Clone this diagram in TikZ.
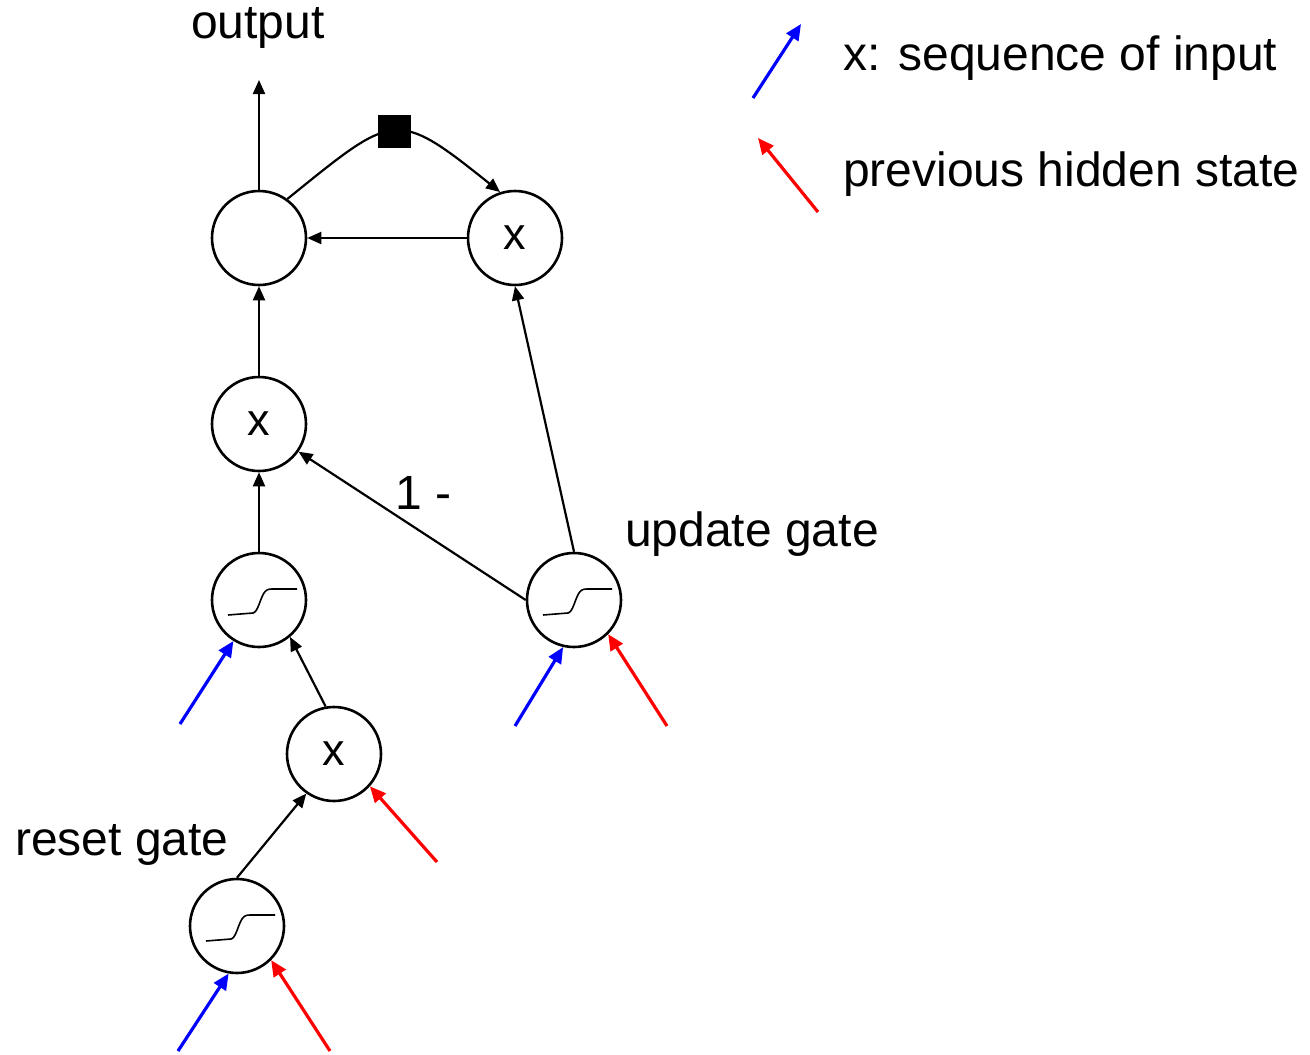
\documentclass[tikz,border=0pt]{standalone}
\usepackage{fontspec}
\setmainfont{Liberation Sans}
\usetikzlibrary{arrows.meta}

\tikzset{
  unit/.style={circle, draw, line width=2.6pt, minimum size=94pt, inner sep=0pt,
               font=\fontsize{45}{52}\selectfont},
  conn/.style={line width=2.2pt, -{Triangle[length=14pt,width=12pt]}},
  inblue/.style={blue, line width=3.2pt, -{Triangle[length=16pt,width=14pt]}},
  inred/.style={red, line width=3.2pt, -{Triangle[length=16pt,width=14pt]}},
  lbl/.style={font=\fontsize{48}{56}\selectfont, inner sep=0pt},
  delay/.style={fill=black, minimum size=33pt, inner sep=0pt},
  sigmoid/.pic={
    \draw[line width=1.6pt] (-31,15) -- (-6,13) .. controls (-1,12) and (1,-1) ..
      (5,-7) .. controls (7,-10) and (9,-11) .. (13,-11) -- (38,-11);
  }
}

\begin{document}
\begin{tikzpicture}[x=1pt, y=-1pt]
  \useasboundingbox (0,0) rectangle (1310,1055);

  % cells of the gated recurrent unit
  \node[unit] (sum)   at (259,238) {};
  \node[unit] (mulz)  at (515,238) {x};
  \node[unit] (mulc)  at (259,424) {x};
  \node[unit] (cand)  at (259,600) {};
  \node[unit] (upd)   at (574,600) {};
  \node[unit] (mulr)  at (334,754) {x};
  \node[unit] (rst)   at (237,926) {};
  \pic at (cand) {sigmoid};
  \pic at (upd)  {sigmoid};
  \pic at (rst)  {sigmoid};

  % labels
  \node[lbl] (outlbl) at (258,28) {output};
  \node[lbl, anchor=west] (updlbl) at (625,534) {update gate};
  \node[lbl, anchor=west] (rstlbl) at (15,845) {reset gate};
  \node[lbl] (onem) at (424,493) {1 -};

  % output
  \coordinate (outtip) at (259,80);
  \draw[conn] (sum.north) -- (outtip);

  % delayed state feedback through the unit delay
  \draw[conn] (sum.54) .. controls (395,112) and (395,108) ..
    node[delay, pos=0.5] (dly) {} (mulz.108);

  \draw[conn] (mulz.west) -- (sum.east);
  \draw[conn] (mulc.north) -- (sum.south);
  \draw[conn] (upd.north) -- (mulz.south);
  \draw[conn] (upd.west) -- (mulc.-35);
  \draw[conn] (cand.north) -- (mulc.south);
  \draw[conn] (mulr.100) -- (cand.-50);
  \draw[conn] (rst.north) -- (mulr.-125);

  % inputs x (blue) and previous hidden state (red)
  \coordinate (xc) at (180,724);
  \coordinate (xu) at (515,726);
  \coordinate (hu) at (667,726);
  \coordinate (hr) at (437,862);
  \coordinate (xr) at (178,1051);
  \coordinate (hg) at (330,1051);
  \draw[inblue] (xc) -- (cand.-122);
  \draw[inblue] (xu) -- (upd.-103);
  \draw[inred]  (hu) -- (upd.-45);
  \draw[inred]  (hr) -- (mulr.-42);
  \draw[inblue] (xr) -- (rst.-100);
  \draw[inred]  (hg) -- (rst.-45);

  % legend
  \coordinate (lb0) at (753,98);
  \coordinate (lb1) at (801,24);
  \coordinate (lr0) at (818,212);
  \coordinate (lr1) at (758,138);
  \draw[inblue] (lb0) -- (lb1);
  \draw[inred]  (lr0) -- (lr1);
  \node[lbl, anchor=west] (legx) at (843,58) {x: sequence of input};
  \node[lbl, anchor=west] (legh) at (843,174) {previous hidden state};
\end{tikzpicture}
\end{document}
